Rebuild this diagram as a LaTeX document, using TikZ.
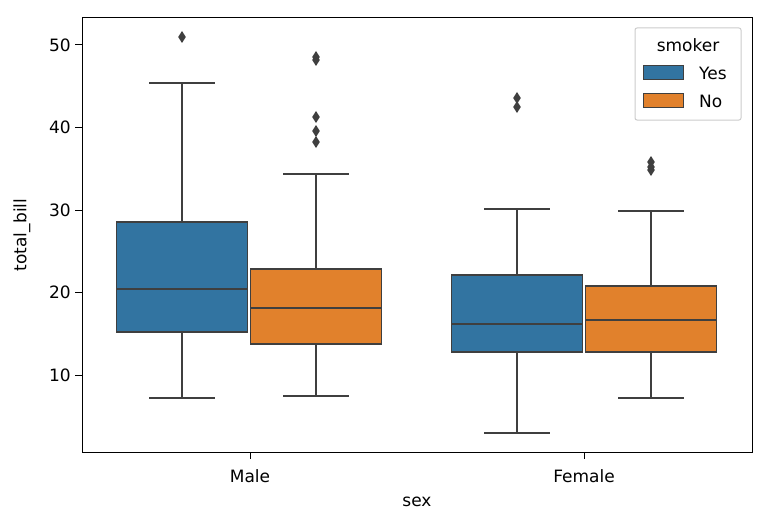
\documentclass[tikz,border=0pt]{standalone}
\usepackage{fontspec}
\setmainfont{DejaVu Sans}
\begin{document}
\begin{tikzpicture}[x=1pt,y=-1pt,
  edge/.style={draw=gray3,line width=1.8pt},
  box/.style={edge},
  outl/.style={fill=gray3,draw=none},
  lbl/.style={font=\fontsize{17}{20}\selectfont,inner sep=0pt}]
\definecolor{gray3}{HTML}{3F3F3F}
\definecolor{sbblue}{HTML}{3274A1}
\definecolor{sborange}{HTML}{E1812C}
\useasboundingbox (0,0) rectangle (769,527);
\fill[white] (0,0) rectangle (769,527);
% box macro: center, halfwidth, color, wlo, q1, med, q3, whi
\newcommand\bxp[8]{%
  \draw[edge] (#1,#4) -- (#1,#5) (#1,#7) -- (#1,#8);
  \draw[edge] ({#1-#2/2},#4) -- ({#1+#2/2},#4) ({#1-#2/2},#8) -- ({#1+#2/2},#8);
  \filldraw[box,fill=#3] ({#1-#2},#5) rectangle ({#1+#2},#7);
  \draw[edge] ({#1-#2},#6) -- ({#1+#2},#6);}
\newcommand\dia[2]{\fill[gray3] (#1,#2-6) -- (#1+3.8,#2) -- (#1,#2+6) -- (#1-3.8,#2) -- cycle;}
\bxp{182}{65.5}{sbblue}{398}{332}{289}{222}{83}
\bxp{316}{65.5}{sborange}{396}{344}{308}{269}{174}
\bxp{517}{65.5}{sbblue}{433}{352}{324}{275}{209}
\bxp{651}{65.5}{sborange}{398}{352}{320}{286}{211}
\dia{182}{37}
\dia{316}{57}\dia{316}{60}\dia{316}{117}\dia{316}{131}\dia{316}{142}
\dia{517}{98}\dia{517}{107}
\dia{651}{162}\dia{651}{167}\dia{651}{170}
% axes
\draw[line width=1pt,black] (82,18) rectangle (752,452);
\foreach \v/\yy in {10/375,20/292.5,30/210,40/127.5,50/45}{
  \draw[line width=1pt] (82,\yy) -- (75,\yy);
  \node[lbl,anchor=east] (t\v) at (71,\yy) {\v};}
\draw[line width=1pt] (250,452) -- (250,459) (584,452) -- (584,459);
\node[lbl] (m) at (250,476) {Male};
\node[lbl] (f) at (584,476) {Female};
\node[lbl] (sx) at (417,502) {sex};
\node[lbl,rotate=90] (tb) at (22,235) {total\_bill};
% legend
\draw[draw=black!20,fill=white,rounded corners=2pt,line width=1pt] (635,28) rectangle (741,120);
\node[lbl] (lt) at (688,45) {smoker};
\filldraw[draw=gray3,line width=1pt,fill=sbblue] (643,66) rectangle (683,80);
\filldraw[draw=gray3,line width=1pt,fill=sborange] (643,94) rectangle (683,108);
\node[lbl,anchor=west] (ly) at (699,73) {Yes};
\node[lbl,anchor=west] (ln) at (699,101) {No};
\end{tikzpicture}
\end{document}
